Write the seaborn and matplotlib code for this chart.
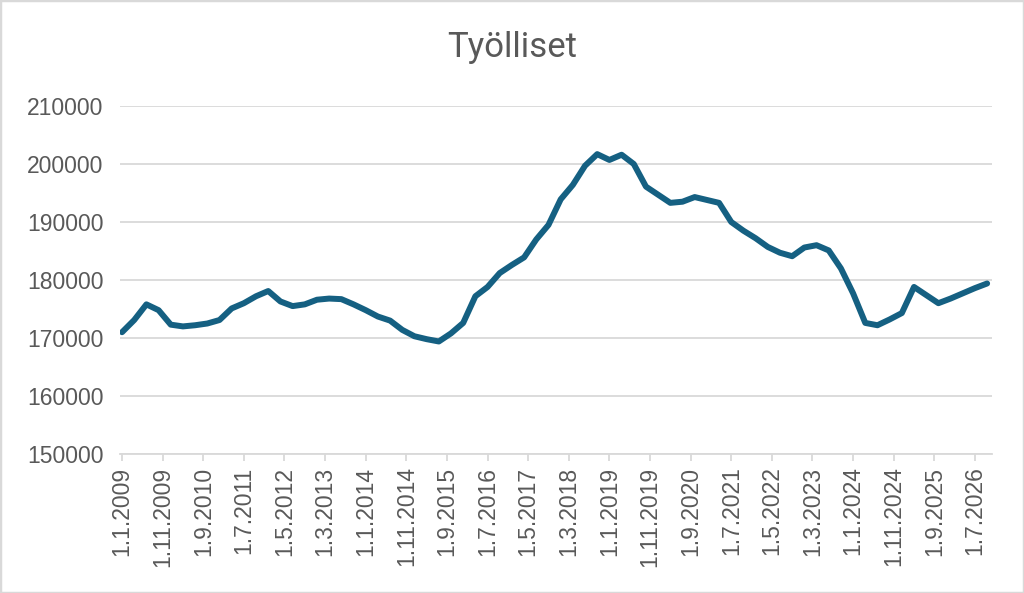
import matplotlib
matplotlib.use("Agg")
import matplotlib.pyplot as plt
from matplotlib.patches import Rectangle
import seaborn as sns
import pandas as pd

# Quarterly data, 1.1.2009 ... 1.10.2026
years = list(range(2009, 2027))
quarter_months = [1, 4, 7, 10]
values = [
    171000, 173100, 175800, 174800,
    172300, 172000, 172200, 172500,
    173100, 175100, 176000, 177200,
    178100, 176300, 175500, 175800,
    176600, 176800, 176700, 175800,
    174800, 173700, 173000, 171400,
    170300, 169800, 169400, 170800,
    172600, 177200, 178800, 181200,
    182600, 183900, 187000, 189500,
    193900, 196400, 199700, 201700,
    200700, 201600, 200000, 196100,
    194700, 193300, 193500, 194300,
    193800, 193300, 190000, 188500,
    187200, 185700, 184700, 184100,
    185600, 186000, 185100, 182000,
    177700, 172600, 172200, 173200,
    174300, 178800, 177400, 176000,
    176800, 177700, 178600, 179400,
]
title = "Työlliset"
y_ticks = [150000, 160000, 170000, 180000, 190000, 200000, 210000]

# month index since Jan 2009
months = [(y - 2009) * 12 + (m - 1) for y in years for m in quarter_months]
df = pd.DataFrame({"month": months, "value": values})

tick_months = list(range(0, 211, 10))
tick_labels = [f"1.{t % 12 + 1}.{2009 + t // 12}" for t in tick_months]

sns.set_theme(style="white")
plt.rcParams["font.family"] = ["Liberation Sans", "DejaVu Sans"]

fig = plt.figure(figsize=(10.24, 5.93), dpi=100)
ax = fig.add_axes([120 / 1024, 1 - 454 / 593, (992 - 120) / 1024, (454 - 106) / 593])

sns.lineplot(data=df, x="month", y="value", ax=ax, color="#156082",
             linewidth=4.3, solid_joinstyle="round", solid_capstyle="round")

ax.set_xlim(-0.5, 214.2)
ax.set_ylim(150000, 210000)
ax.set_yticks(y_ticks)
ax.set_yticklabels([str(v) for v in y_ticks])
ax.set_xticks(tick_months)
ax.set_xticklabels(tick_labels, rotation=90)
ax.set_xlabel("")
ax.set_ylabel("")

ax.grid(axis="y", color="#d9d9d9", linewidth=1.3)
ax.set_axisbelow(True)
for s in ["top", "right", "left"]:
    ax.spines[s].set_visible(False)
ax.spines["bottom"].set_color("#d9d9d9")
ax.spines["bottom"].set_linewidth(1.3)

ax.tick_params(axis="y", length=0, pad=12, labelsize=16.5, labelcolor="#595959")
ax.tick_params(axis="x", length=5, width=1.3, color="#d9d9d9", direction="out",
               pad=4, labelsize=16.5, labelcolor="#595959", bottom=True)

fig.text(0.5, 1 - 48 / 593, title, ha="center", va="center", fontsize=25,
         color="#595959", family=["Roboto", "DejaVu Sans"])

fig.add_artist(Rectangle((0, 0), 1, 1, transform=fig.transFigure, fill=False,
                         edgecolor="#d9d9d9", linewidth=2.5))

fig.savefig("out.png", dpi=100, facecolor="white")
